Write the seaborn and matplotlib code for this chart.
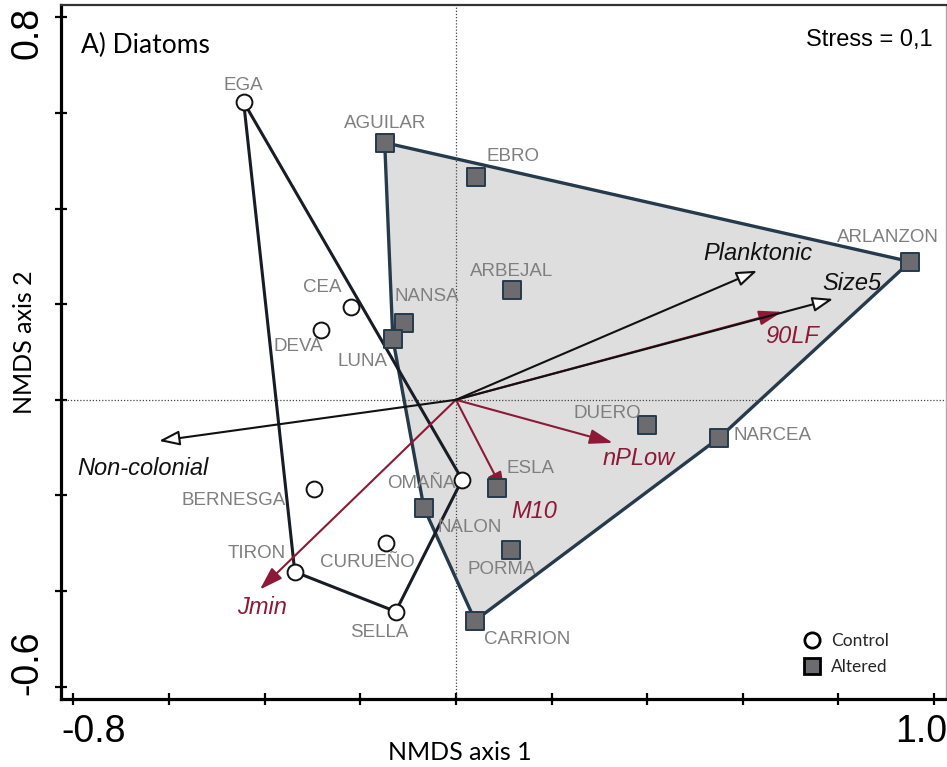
import numpy as np
import pandas as pd
import matplotlib
matplotlib.use("Agg")
import matplotlib.pyplot as plt
from matplotlib.lines import Line2D
from matplotlib.patches import Polygon
import seaborn as sns

# ---- NMDS site scores -------------------------------------------------------
sites = ["EGA", "CEA", "DEVA", "BERNESGA", "TIRON", "CURUEÑO", "SELLA", "OMAÑA",
         "AGUILAR", "EBRO", "ARBEJAL", "ARLANZON", "NANSA", "LUNA", "DUERO",
         "NARCEA", "ESLA", "NALON", "PORMA", "CARRION"]
group = ["Control"] * 8 + ["Altered"] * 12
nmds1 = [-0.444, -0.220, -0.282, -0.297, -0.337, -0.146, -0.126, 0.013,
         -0.149, 0.042, 0.117, 0.950, -0.109, -0.132, 0.400,
         0.550, 0.086, -0.067, 0.115, 0.040]
nmds2 = [0.623, 0.195, 0.146, -0.186, -0.360, -0.299, -0.443, -0.167,
         0.538, 0.467, 0.230, 0.289, 0.161, 0.128, -0.052,
         -0.080, -0.184, -0.226, -0.314, -0.462]

# ---- fitted vectors (traits in black, hydrological indices in red) ----------
vectors = ["Planktonic", "Size5", "Non-colonial", "90LF", "nPLow", "M10", "Jmin"]
vec1 = [0.630, 0.789, -0.621, 0.682, 0.328, 0.103, -0.410]
vec2 = [0.270, 0.211, -0.086, 0.184, -0.090, -0.199, -0.397]
vec_kind = ["trait", "trait", "trait", "hydro", "hydro", "hydro", "hydro"]

panel_title = "A) Diatoms"
stress_text = "Stress = 0,1"
x_ticks = [-0.8, -0.6, -0.4, -0.2, 0.0, 0.2, 0.4, 0.6, 0.8, 1.0]
y_ticks = [-0.6, -0.4, -0.2, 0.0, 0.2, 0.4, 0.6, 0.8]

# label placement (pixel offsets from the marker / arrow tip)
site_label_offset = {
    "EGA": (0, 17), "AGUILAR": (0, 19), "EBRO": (37, 20), "ARLANZON": (-22, 24),
    "ARBEJAL": (0, 18), "CEA": (-28, 19), "NANSA": (23, 26), "DEVA": (-23, -16),
    "LUNA": (-30, -23), "DUERO": (-40, 11), "NARCEA": (54, 3), "ESLA": (33, 19),
    "OMAÑA": (-41, -4), "BERNESGA": (-80, -12), "NALON": (46, -20),
    "TIRON": (-38, 18), "CURUEÑO": (-19, -20), "PORMA": (-9, -20),
    "SELLA": (-16, -21), "CARRION": (52, -19),
}
vector_label_offset = {
    "Planktonic": (1, 17), "Size5": (19, 15), "90LF": (10, -25),
    "Non-colonial": (-16, -28), "Jmin": (2, -18), "nPLow": (26, -16),
    "M10": (29, -17),
}

df = pd.DataFrame({"site": sites, "group": group, "NMDS1": nmds1, "NMDS2": nmds2})
vec = pd.DataFrame({"var": vectors, "v1": vec1, "v2": vec2, "kind": vec_kind})


def convex_hull(points):
    pts = sorted(set(map(tuple, points)))
    if len(pts) <= 2:
        return pts

    def cross(o, a, b):
        return (a[0] - o[0]) * (b[1] - o[1]) - (a[1] - o[1]) * (b[0] - o[0])

    lower, upper = [], []
    for p in pts:
        while len(lower) >= 2 and cross(lower[-2], lower[-1], p) <= 0:
            lower.pop()
        lower.append(p)
    for p in reversed(pts):
        while len(upper) >= 2 and cross(upper[-2], upper[-1], p) <= 0:
            upper.pop()
        upper.append(p)
    return lower[:-1] + upper[:-1]


sns.set_theme(style="white")
plt.rcParams["font.family"] = ["Liberation Sans", "DejaVu Sans"]

W, H = 947, 767
fig = plt.figure(figsize=(W / 100, H / 100), dpi=100)
ax = fig.add_axes([61 / W, (H - 699) / H, (946 - 61) / W, (699 - 5) / H])

x0, y0 = 0.0, 0.0
ax.set_xlim(-0.826, 1.025)
ax.set_ylim(-0.626, 0.826)

# group envelopes
alt = df[df.group == "Altered"][["NMDS1", "NMDS2"]].values
ctl = df[df.group == "Control"][["NMDS1", "NMDS2"]].values
ax.add_patch(Polygon(convex_hull(alt), closed=True, facecolor="#dedede",
                     edgecolor="#263a4b", lw=2.4, zorder=1, joinstyle="round"))
ax.add_patch(Polygon(convex_hull(ctl), closed=True, facecolor="none",
                     edgecolor="#181c24", lw=2.2, zorder=2, joinstyle="round"))

ax.axhline(0, color="#444444", lw=0.9, ls=(0, (1, 1.5)), zorder=1.5)
ax.axvline(0, color="#444444", lw=0.9, ls=(0, (1, 1.5)), zorder=1.5)

# fitted vectors: hydrological first so traits lie on top
red = "#8c1a36"
for kind in ["hydro", "trait"]:
    for _, r in vec[vec.kind == kind].iterrows():
        if kind == "hydro":
            style = "-|>,head_length=1.4,head_width=0.45"
            props = dict(arrowstyle=style, color=red, lw=1.5, mutation_scale=10,
                         shrinkA=0, shrinkB=0)
            tcol = red
        else:
            style = "-|>,head_length=1.25,head_width=0.45"
            props = dict(arrowstyle=style, facecolor="white", edgecolor="#111111",
                         lw=1.5, mutation_scale=10, shrinkA=0, shrinkB=0)
            tcol = "#111111"
        ax.annotate("", xy=(r.v1, r.v2), xytext=(x0, y0), arrowprops=props, zorder=3)
        dx, dy = vector_label_offset[r["var"]]
        ax.annotate(r["var"], xy=(r.v1, r.v2), xytext=(dx, dy),
                    textcoords="offset pixels", ha="center", va="center",
                    fontsize=17, style="italic", color=tcol, zorder=6)

# site scores
sns.scatterplot(data=df[df.group == "Control"], x="NMDS1", y="NMDS2", ax=ax,
                marker="o", s=130, color="white", edgecolor="#111111",
                linewidth=1.4, zorder=4, legend=False)
sns.scatterplot(data=df[df.group == "Altered"], x="NMDS1", y="NMDS2", ax=ax,
                marker="s", s=165, color="#6b6b70", edgecolor="#263a4b",
                linewidth=1.4, zorder=4, legend=False)

for _, r in df.iterrows():
    dx, dy = site_label_offset[r.site]
    ax.annotate(r.site, xy=(r.NMDS1, r.NMDS2), xytext=(dx, dy),
                textcoords="offset pixels", ha="center", va="center",
                fontsize=13.5, color="#7f7f7f", zorder=5)

# frame and ticks
for side in ["left", "bottom"]:
    ax.spines[side].set_color("black")
    ax.spines[side].set_linewidth(2.3)
ax.spines["top"].set_color("#333333")
ax.spines["top"].set_linewidth(1.6)
ax.spines["right"].set_color("#aaaaaa")
ax.spines["right"].set_linewidth(1.0)

ax.set_xticks(x_ticks)
ax.set_yticks(y_ticks)
ax.set_xticklabels([])
ax.set_yticklabels([])
ax.tick_params(axis="both", direction="inout", length=9, width=1.6, color="black",
               bottom=True, left=True, top=False, right=False)

tick_font = dict(fontsize=27, color="black", ha="center", va="center")
ax.text(0.0373, -0.0476, "-0.8", transform=ax.transAxes, **tick_font)
ax.text(0.972, -0.0476, "1.0", transform=ax.transAxes, **tick_font)
ax.text(-0.0384, 0.9597, "0.8", transform=ax.transAxes, rotation=90, **tick_font)
ax.text(-0.0384, 0.0519, "-0.6", transform=ax.transAxes, rotation=90, **tick_font)

label_font = dict(family=["Lato", "DejaVu Sans"], fontsize=18, color="black")
ax.set_xlabel("NMDS axis 1", **label_font)
ax.set_ylabel("NMDS axis 2", **label_font)
ax.xaxis.set_label_coords(0.451, -0.0764)
ax.yaxis.set_label_coords(-0.0407, 0.514)
ax.xaxis.label.set_va("center")
ax.yaxis.label.set_va("center")

ax.text(0.095, 0.942, panel_title, transform=ax.transAxes, ha="center", va="center",
        fontsize=19, family=["Lato", "DejaVu Sans"], color="black")
ax.text(0.985, 0.9496, stress_text, transform=ax.transAxes, ha="right", va="center",
        fontsize=17, color="black")

handles = [
    Line2D([], [], marker="o", ls="none", markersize=11, markerfacecolor="white",
           markeredgecolor="black", markeredgewidth=2.0),
    Line2D([], [], marker="s", ls="none", markersize=11, markerfacecolor="#6b6b70",
           markeredgecolor="black", markeredgewidth=2.0),
]
leg = ax.legend(handles, ["Control", "Altered"], loc="center left",
                bbox_to_anchor=(0.829, 0.0648), frameon=False, borderpad=0,
                handlelength=1.0, handletextpad=0.6, labelspacing=0.55,
                prop={"family": ["Lato", "DejaVu Sans"], "size": 12.5})

fig.savefig("out.png", dpi=100, facecolor="white")
